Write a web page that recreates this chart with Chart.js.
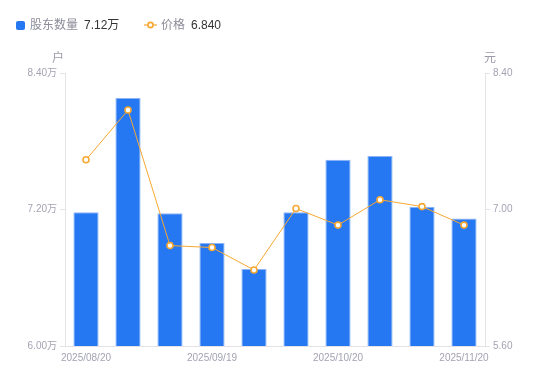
<!DOCTYPE html>
<html>
<head>
<meta charset="utf-8">
<script src="https://cdn.jsdelivr.net/npm/chart.js@4"></script>
<style>
html,body{margin:0;padding:0;background:#fff;width:550px;height:381px;overflow:hidden;}
#wrap{position:absolute;left:0;top:0;width:550px;height:381px;}
#legend{position:absolute;left:0;top:0;height:48px;width:550px;font-family:"Liberation Sans","Noto Sans CJK SC",sans-serif;font-size:12px;}
.item{position:absolute;top:17px;line-height:16px;white-space:nowrap;}
.name{color:#8c8c99;}
.val{color:#333;margin-left:6px;}
.sq{display:inline-block;width:9px;height:9px;background:#2677f2;border-radius:2px;vertical-align:-1px;margin-right:5px;}
</style>
</head>
<body>
<div id="wrap"><canvas id="c" width="550" height="381"></canvas></div>
<div id="legend">
  <div class="item" style="left:16px"><span class="sq"></span><span class="name">股东数量</span><span class="val">7.12万</span></div>
  <div class="item" style="left:144px"><svg width="13" height="10" style="vertical-align:-1px;margin-right:4px"><line x1="0" y1="5" x2="13" y2="5" stroke="#f7a833" stroke-width="1.2"/><circle cx="6.5" cy="5" r="2.6" fill="#fff" stroke="#f7a833" stroke-width="1.6"/></svg><span class="name">价格</span><span class="val">6.840</span></div>
</div>
<script>
const categories = ["2025/08/20","2025/08/31","2025/09/10","2025/09/19","2025/09/30","2025/10/10","2025/10/20","2025/10/31","2025/11/10","2025/11/20"];
const holders = [7.175, 8.18, 7.167, 6.905, 6.677, 7.175, 7.638, 7.67, 7.225, 7.12];
const prices = [7.51, 8.02, 6.63, 6.61, 6.38, 7.01, 6.84, 7.10, 7.03, 6.84];
const leftTicks = [6.00, 7.20, 8.40];
const rightTicks = [5.60, 7.00, 8.40];
const leftUnit = "户";
const rightUnit = "元";

const tickFont = {family:"Liberation Sans, Noto Sans CJK SC, sans-serif", size:10};
const tickColor = "#a3a3b3";
const axisColor = "#e3e3e8";

const unitPlugin = {
  id:'units',
  afterDraw(chart){
    const ctx = chart.ctx;
    const a = chart.chartArea;
    ctx.save();
    ctx.font = "12px 'Noto Sans CJK SC', sans-serif";
    ctx.fillStyle = "#9a9aa8";
    ctx.textAlign = "center";
    ctx.textBaseline = "middle";
    ctx.fillText(leftUnit, a.left - 7, 57);
    ctx.fillText(rightUnit, a.right + 5, 57);
    ctx.restore();
  }
};

new Chart(document.getElementById('c'), {
  data:{
    labels: categories,
    datasets:[
      {type:'line', label:'价格', data:prices, yAxisID:'y1', order:0,
       borderColor:'#f7a833', borderWidth:1, backgroundColor:'#fff',
       pointRadius:3, pointBorderWidth:1.6, pointBackgroundColor:'#fff', pointBorderColor:'#f7a833',
       tension:0},
      {type:'bar', label:'股东数量', data:holders, yAxisID:'y', order:1,
       backgroundColor:'#2677f2', borderColor:'#8cb4f7', borderWidth:1,
       barPercentage:0.6, categoryPercentage:1.0}
    ]
  },
  options:{
    responsive:false, animation:false,
    layout:{padding:{top:73,left:0,right:0,bottom:0}},
    plugins:{legend:{display:false}, tooltip:{enabled:false}},
    scales:{
      x:{
        grid:{display:false, drawTicks:false},
        border:{display:true, color:axisColor, width:1},
        ticks:{autoSkip:false, maxRotation:0, font:tickFont, color:tickColor, padding:6,
          callback:function(v,i){return i%3===0 ? categories[i] : '';}},
        afterFit(s){s.height=35;}
      },
      y:{
        position:'left', min:6.0, max:8.4,
        grid:{drawOnChartArea:false, drawTicks:true, tickLength:5, color:axisColor},
        border:{display:true, color:axisColor, width:1},
        ticks:{font:tickFont, color:tickColor, padding:3,
          callback:(v)=>v.toFixed(2)+'万'},
        afterBuildTicks(s){s.ticks = leftTicks.map(v=>({value:v}));},
        afterFit(s){s.width=65;}
      },
      y1:{
        position:'right', min:5.6, max:8.4,
        grid:{drawOnChartArea:false, drawTicks:true, tickLength:5, color:axisColor},
        border:{display:true, color:axisColor, width:1},
        ticks:{font:tickFont, color:tickColor, padding:3,
          callback:(v)=>v.toFixed(2)},
        afterBuildTicks(s){s.ticks = rightTicks.map(v=>({value:v}));},
        afterFit(s){s.width=65;}
      }
    }
  },
  plugins:[unitPlugin]
});
</script>
</body>
</html>
